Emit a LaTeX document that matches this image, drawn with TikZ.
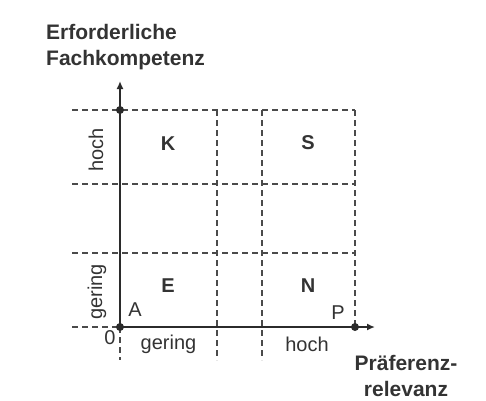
\documentclass[tikz,border=0pt]{standalone}
\usepackage{fontspec}
\setmainfont{Liberation Sans}
\usepackage{xcolor}
\usetikzlibrary{arrows.meta,positioning}

\definecolor{axisgray}{HTML}{2B2B2B}
\definecolor{gridgray}{HTML}{4A4A4A}
\definecolor{txtgray}{HTML}{333333}

\begin{document}
\begin{tikzpicture}[x=1pt, y=-1pt,
    % ---------- estilos ----------
    axis/.style={line width=2.2pt, color=axisgray, -{Latex[length=8pt, width=7pt]}},
    gline/.style={line width=1.4pt, color=gridgray, dash pattern=on 6pt off 4pt},
    hdr/.style={font=\fontsize{21}{26}\selectfont\bfseries, text=txtgray, inner sep=0pt},
    qlbl/.style={font=\fontsize{20}{22}\selectfont\bfseries, text=txtgray, inner sep=0pt},
    slbl/.style={font=\fontsize{20}{22}\selectfont, text=txtgray, inner sep=0pt},
    dot/.style={circle, fill=axisgray, inner sep=0pt, minimum size=8pt}
]

\useasboundingbox (0,0) rectangle (486,400);

\def\xO{120}
\def\xA{217}
\def\xB{262}
\def\xP{355}
\def\yO{327}
\def\yA{253}
\def\yB{184}
\def\yK{110}
\def\xL{72}
\def\yL{360}

% ====== Rejilla ======
\foreach \y in {\yK,\yB,\yA} {
    \draw[gline] (\xL,\y) -- (\xP,\y);
}
\draw[gline] (\xL,\yO) -- (\xO,\yO);
\foreach \x in {\xA,\xB} {
    \draw[gline] (\x,\yK) -- (\x,\yL);
}
\draw[gline] (\xP,\yK) -- (\xP,\yO);
\draw[gline] (\xO,\yO) -- (\xO,\yL);

% ====== Ejes ======
\node[dot] (O) at (\xO,\yO) {};
\node[dot] (K0) at (\xO,\yK) {};
\node[dot] (P0) at (\xP,\yO) {};
\coordinate (ytip) at (\xO,81);
\coordinate (xtip) at (375,\yO);
\draw[axis] (O.center) -- (ytip);
\draw[axis] (O.center) -- (xtip);

% ====== Titulos de ejes ======
\node[hdr, align=left, anchor=west] (fk) at (46,47) {Erforderliche\\Fachkompetenz};
\node[hdr, align=center] (pr) at (406,376) {Präferenz-\\relevanz};

% ====== Cuadrantes ======
\node[qlbl] (qK) at (168,144) {K};
\node[qlbl] (qS) at (308,143) {S};
\node[qlbl] (qE) at (168,286) {E};
\node[qlbl] (qN) at (308,286) {N};

% ====== Escalas ======
\node[slbl, rotate=90] (yh) at (96,150) {hoch};
\node[slbl, rotate=90] (yg) at (97,292) {gering};
\node[slbl] (xg) at (168.5,344) {gering};
\node[slbl] (xh) at (307,344) {hoch};
\node[slbl] (n0) at (110,338) {0};
\node[slbl] (nA) at (135,310) {A};
\node[slbl] (nP) at (338,313) {P};

\end{tikzpicture}
\end{document}
